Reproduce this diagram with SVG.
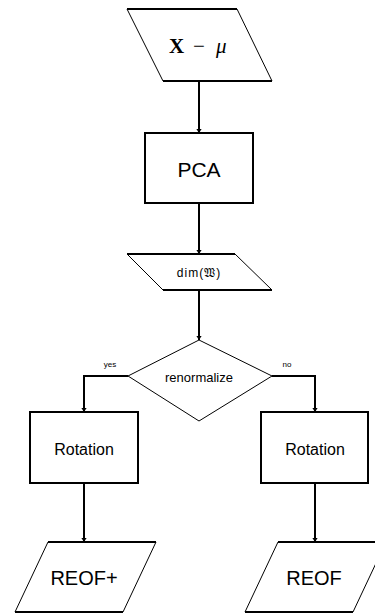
<svg xmlns="http://www.w3.org/2000/svg" width="375" height="614" viewBox="0 0 375 614">
<style>
.thick{stroke:#000;stroke-width:2;fill:none}
.thin{stroke:#000;stroke-width:1;fill:none}
.bg{fill:#fff;stroke:none}
.conn{stroke:#000;stroke-width:2;fill:none;marker-end:url(#ah)}
.t{font-family:"Liberation Sans",Arial,sans-serif;fill:#000;text-anchor:middle}
</style>
<defs>
<marker id="ah" viewBox="0 0 6 8" refX="6" refY="4" markerWidth="3" markerHeight="2.6" orient="auto" markerUnits="strokeWidth">
<path d="M0,0 L6,4 L0,8 z" fill="#000"/>
</marker>
</defs>
<rect width="375" height="614" fill="#fff"/>
<g id="connectors">
<line class="conn" x1="199" y1="81" x2="199" y2="133"/>
<line class="conn" x1="199" y1="203" x2="199" y2="254"/>
<line class="conn" x1="199" y1="290" x2="199" y2="340"/>
<polyline class="conn" points="128,376 84,376 84,412"/>
<polyline class="conn" points="272,376 315,376 315,412"/>
<line class="conn" x1="84" y1="483" x2="84" y2="542"/>
<line class="conn" x1="315" y1="483" x2="315" y2="542"/>
<text class="t" x="110" y="367" font-size="8">yes</text>
<text class="t" x="287" y="367" font-size="8">no</text>
</g>
<g id="input">
<polygon class="bg" points="127,9 237,9 272,81 163,81"/>
<line class="thin" x1="127" y1="9" x2="163" y2="81"/>
<line class="thin" x1="237" y1="9" x2="272" y2="81"/>
<line class="thick" x1="127" y1="9" x2="237" y2="9"/>
<line class="thick" x1="163" y1="81" x2="272" y2="81"/>
<text y="53" font-size="21" font-family="'Liberation Serif','Times New Roman',serif"><tspan x="169" font-weight="bold">X</tspan><tspan x="193">−</tspan><tspan x="216" font-style="italic">μ</tspan></text>
</g>
<g id="pca">
<rect class="thick" x="145" y="133" width="108" height="70" fill="#fff"/>
<text class="t" x="199" y="177" font-size="21">PCA</text>
</g>
<g id="dim">
<polygon class="bg" points="127,254 235,254 272,290 163,290"/>
<line class="thin" x1="127" y1="254" x2="163" y2="290"/>
<line class="thin" x1="235" y1="254" x2="272" y2="290"/>
<line class="thick" x1="127" y1="254" x2="235" y2="254"/>
<line class="thick" x1="163" y1="290" x2="272" y2="290"/>
<text class="t" x="199" y="277" font-size="12" letter-spacing="1">dim(𝔚)</text>
</g>
<g id="renormalize">
<polygon class="thin" points="199,340 272,376 199,421 128,376" fill="#fff"/>
<text class="t" x="199" y="382" font-size="13">renormalize</text>
</g>
<g id="rotation-left">
<rect class="thick" x="30" y="412" width="108" height="71" fill="#fff"/>
<text class="t" x="84" y="455" font-size="16">Rotation</text>
</g>
<g id="rotation-right">
<rect class="thick" x="261" y="412" width="107" height="71" fill="#fff"/>
<text class="t" x="315" y="455" font-size="16">Rotation</text>
</g>
<g id="reof-plus">
<polygon class="bg" points="48,542 156,542 123,612 15,612"/>
<line class="thin" x1="48" y1="542" x2="15" y2="612"/>
<line class="thin" x1="156" y1="542" x2="123" y2="612"/>
<line class="thick" x1="48" y1="542" x2="156" y2="542"/>
<line class="thick" x1="15" y1="612" x2="123" y2="612"/>
<text class="t" x="84" y="585" font-size="20">REOF+</text>
</g>
<g id="reof">
<polygon class="bg" points="278,542 386,542 353,612 245,612"/>
<line class="thin" x1="278" y1="542" x2="245" y2="612"/>
<line class="thin" x1="386" y1="542" x2="353" y2="612"/>
<line class="thick" x1="278" y1="542" x2="386" y2="542"/>
<line class="thick" x1="245" y1="612" x2="353" y2="612"/>
<text class="t" x="314" y="585" font-size="20">REOF</text>
</g>
</svg>
